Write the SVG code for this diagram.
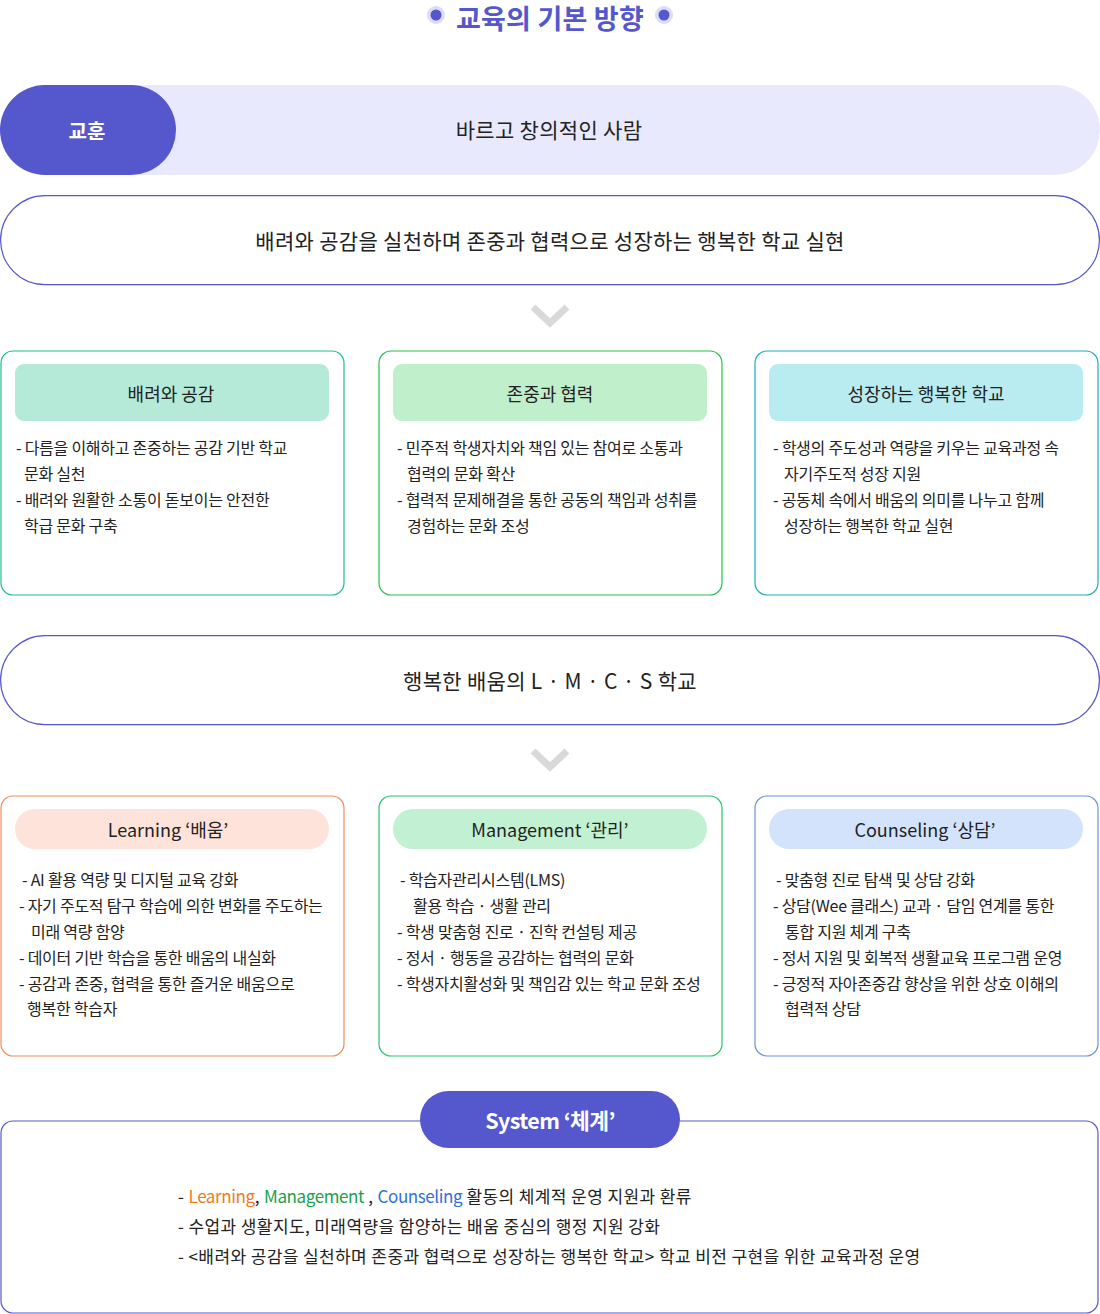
<svg xmlns="http://www.w3.org/2000/svg" width="1100" height="1314" viewBox="0 0 1100 1314">
<style>
text{font-family:"Noto Sans CJK KR","Noto Sans",sans-serif;fill:#222;dominant-baseline:central}
.t{font-size:27px;font-weight:700;fill:#5558cc;text-anchor:middle;letter-spacing:0.2px}
.main{font-size:21px;text-anchor:middle;letter-spacing:0.3px}
.hd{font-size:18px;text-anchor:middle}
.b{font-size:16px;letter-spacing:-0.25px}
.s{font-size:17px;letter-spacing:0.4px}
.lat{letter-spacing:-0.4px}
.w{fill:#fff;font-weight:700;text-anchor:middle}
.pill{fill:#fff;stroke:#5558cc;stroke-width:1.2}
.chev{fill:none;stroke:#d9d9d9;stroke-width:7}
</style>
<rect width="1100" height="1314" fill="#fff"/>
<g id="title">
<circle cx="436" cy="15" r="9" fill="#dcdcf6"/><circle cx="436" cy="15" r="5.5" fill="#5558cc"/>
<circle cx="664" cy="15" r="9" fill="#dcdcf6"/><circle cx="664" cy="15" r="5.5" fill="#5558cc"/>
<text class="t" x="550" y="17">교육의 기본 방향</text>
</g>
<g id="motto">
<path d="M45 85 H1055 A45 45 0 0 1 1055 175 H45 Z" fill="#e8e9fc"/>
<rect x="0" y="85" width="176" height="90" rx="45" fill="#5558cc"/>
<text class="w" x="87" y="130" style="font-size:20px">교훈</text>
<text class="main" x="549" y="129">바르고 창의적인 사람</text>
</g>
<g id="vision">
<rect class="pill" x="0.6" y="195.6" width="1098.8" height="89" rx="44.5"/>
<text class="main" x="550" y="240">배려와 공감을 실천하며 존중과 협력으로 성장하는 행복한 학교 실현</text>
</g>
<g id="connectors">
<path class="chev" d="M533 307 L550 323 L567 307"/>
<path class="chev" d="M533 751 L550 767 L567 751"/>
</g>
<g id="box-care">
<rect x="1" y="351" width="343" height="244" rx="12" fill="#fff" stroke="#1dbf8a" stroke-width="1.2"/>
<rect x="15" y="364" width="314" height="57" rx="9" fill="#b5e9d8"/>
<text class="hd" x="171" y="393">배려와 공감</text>
<text class="b" x="16" y="447">- 다름을 이해하고 존중하는 공감 기반 학교</text>
<text class="b" x="24" y="473">문화 실천</text>
<text class="b" x="16" y="499">- 배려와 원활한 소통이 돋보이는 안전한</text>
<text class="b" x="24" y="525">학급 문화 구축</text>
</g>
<g id="box-respect">
<rect x="379" y="351" width="343" height="244" rx="12" fill="#fff" stroke="#28c04a" stroke-width="1.2"/>
<rect x="393" y="364" width="314" height="57" rx="9" fill="#c0efcb"/>
<text class="hd" x="550" y="393">존중과 협력</text>
<text class="b" x="397" y="447">- 민주적 학생자치와 책임 있는 참여로 소통과</text>
<text class="b" x="407" y="473">협력의 문화 확산</text>
<text class="b" x="397" y="499">- 협력적 문제해결을 통한 공동의 책임과 성취를</text>
<text class="b" x="407" y="525">경험하는 문화 조성</text>
</g>
<g id="box-growth">
<rect x="755" y="351" width="343" height="244" rx="12" fill="#fff" stroke="#1aacc0" stroke-width="1.2"/>
<rect x="769" y="364" width="314" height="57" rx="9" fill="#b9ecf0"/>
<text class="hd" x="926" y="393">성장하는 행복한 학교</text>
<text class="b" x="773" y="447">- 학생의 주도성과 역량을 키우는 교육과정 속</text>
<text class="b" x="784" y="473">자기주도적 성장 지원</text>
<text class="b" x="773" y="499">- 공동체 속에서 배움의 의미를 나누고 함께</text>
<text class="b" x="784" y="525">성장하는 행복한 학교 실현</text>
</g>
<g id="lmcs">
<rect class="pill" x="0.6" y="635.6" width="1098.8" height="89" rx="44.5"/>
<text class="main" x="550" y="680">행복한 배움의 L · M · C · S 학교</text>
</g>
<g id="box-learning">
<rect x="1" y="796" width="343" height="260" rx="12" fill="#fff" stroke="#f08c5a" stroke-width="1.2"/>
<rect x="15" y="809" width="314" height="40" rx="20" fill="#fde3d9"/>
<text class="hd" x="168" y="829">Learning ‘배움’</text>
<text class="b" x="22" y="879">- AI 활용 역량 및 디지털 교육 강화</text>
<text class="b" x="19" y="905">- 자기 주도적 탐구 학습에 의한 변화를 주도하는</text>
<text class="b" x="31" y="931">미래 역량 함양</text>
<text class="b" x="19" y="957">- 데이터 기반 학습을 통한 배움의 내실화</text>
<text class="b" x="19" y="983">- 공감과 존중, 협력을 통한 즐거운 배움으로</text>
<text class="b" x="27" y="1008">행복한 학습자</text>
</g>
<g id="box-management">
<rect x="379" y="796" width="343" height="260" rx="12" fill="#fff" stroke="#28c46a" stroke-width="1.2"/>
<rect x="393" y="809" width="314" height="40" rx="20" fill="#c2f0d2"/>
<text class="hd" x="550" y="829">Management ‘관리’</text>
<text class="b" x="400" y="879">- 학습자관리시스템(LMS)</text>
<text class="b" x="413" y="905">활용 학습 · 생활 관리</text>
<text class="b" x="397" y="931">- 학생 맞춤형 진로 · 진학 컨설팅 제공</text>
<text class="b" x="397" y="957">- 정서 · 행동을 공감하는 협력의 문화</text>
<text class="b" x="397" y="983">- 학생자치활성화 및 책임감 있는 학교 문화 조성</text>
</g>
<g id="box-counseling">
<rect x="755" y="796" width="343" height="260" rx="12" fill="#fff" stroke="#6b8fe0" stroke-width="1.2"/>
<rect x="769" y="809" width="314" height="40" rx="20" fill="#d3e3fb"/>
<text class="hd" x="925" y="829">Counseling ‘상담’</text>
<text class="b" x="776" y="879">- 맞춤형 진로 탐색 및 상담 강화</text>
<text class="b" x="773" y="905">- 상담(Wee 클래스) 교과 · 담임 연계를 통한</text>
<text class="b" x="785" y="931">통합 지원 체계 구축</text>
<text class="b" x="773" y="957">- 정서 지원 및 회복적 생활교육 프로그램 운영</text>
<text class="b" x="773" y="983">- 긍정적 자아존중감 향상을 위한 상호 이해의</text>
<text class="b" x="785" y="1008">협력적 상담</text>
</g>
<g id="system">
<rect x="1" y="1121" width="1097" height="192" rx="12" fill="#fff" stroke="#5558cc" stroke-width="1.2"/>
<rect x="420" y="1091" width="260" height="57" rx="28.5" fill="#5558cc"/>
<text class="w" x="550" y="1119" style="font-size:21.5px;letter-spacing:-0.6px">System ‘체계’</text>
<text class="s" x="178" y="1195">- <tspan class="lat" style="fill:#f07a1a">Learning</tspan>, <tspan class="lat" style="fill:#1aa04a">Management</tspan> , <tspan class="lat" style="fill:#2f6fdd">Counseling</tspan> 활동의 체계적 운영 지원과 환류</text>
<text class="s" x="178" y="1225">- 수업과 생활지도, 미래역량을 함양하는 배움 중심의 행정 지원 강화</text>
<text class="s" x="178" y="1255">- &lt;배려와 공감을 실천하며 존중과 협력으로 성장하는 행복한 학교&gt; 학교 비전 구현을 위한 교육과정 운영</text>
</g>
</svg>
